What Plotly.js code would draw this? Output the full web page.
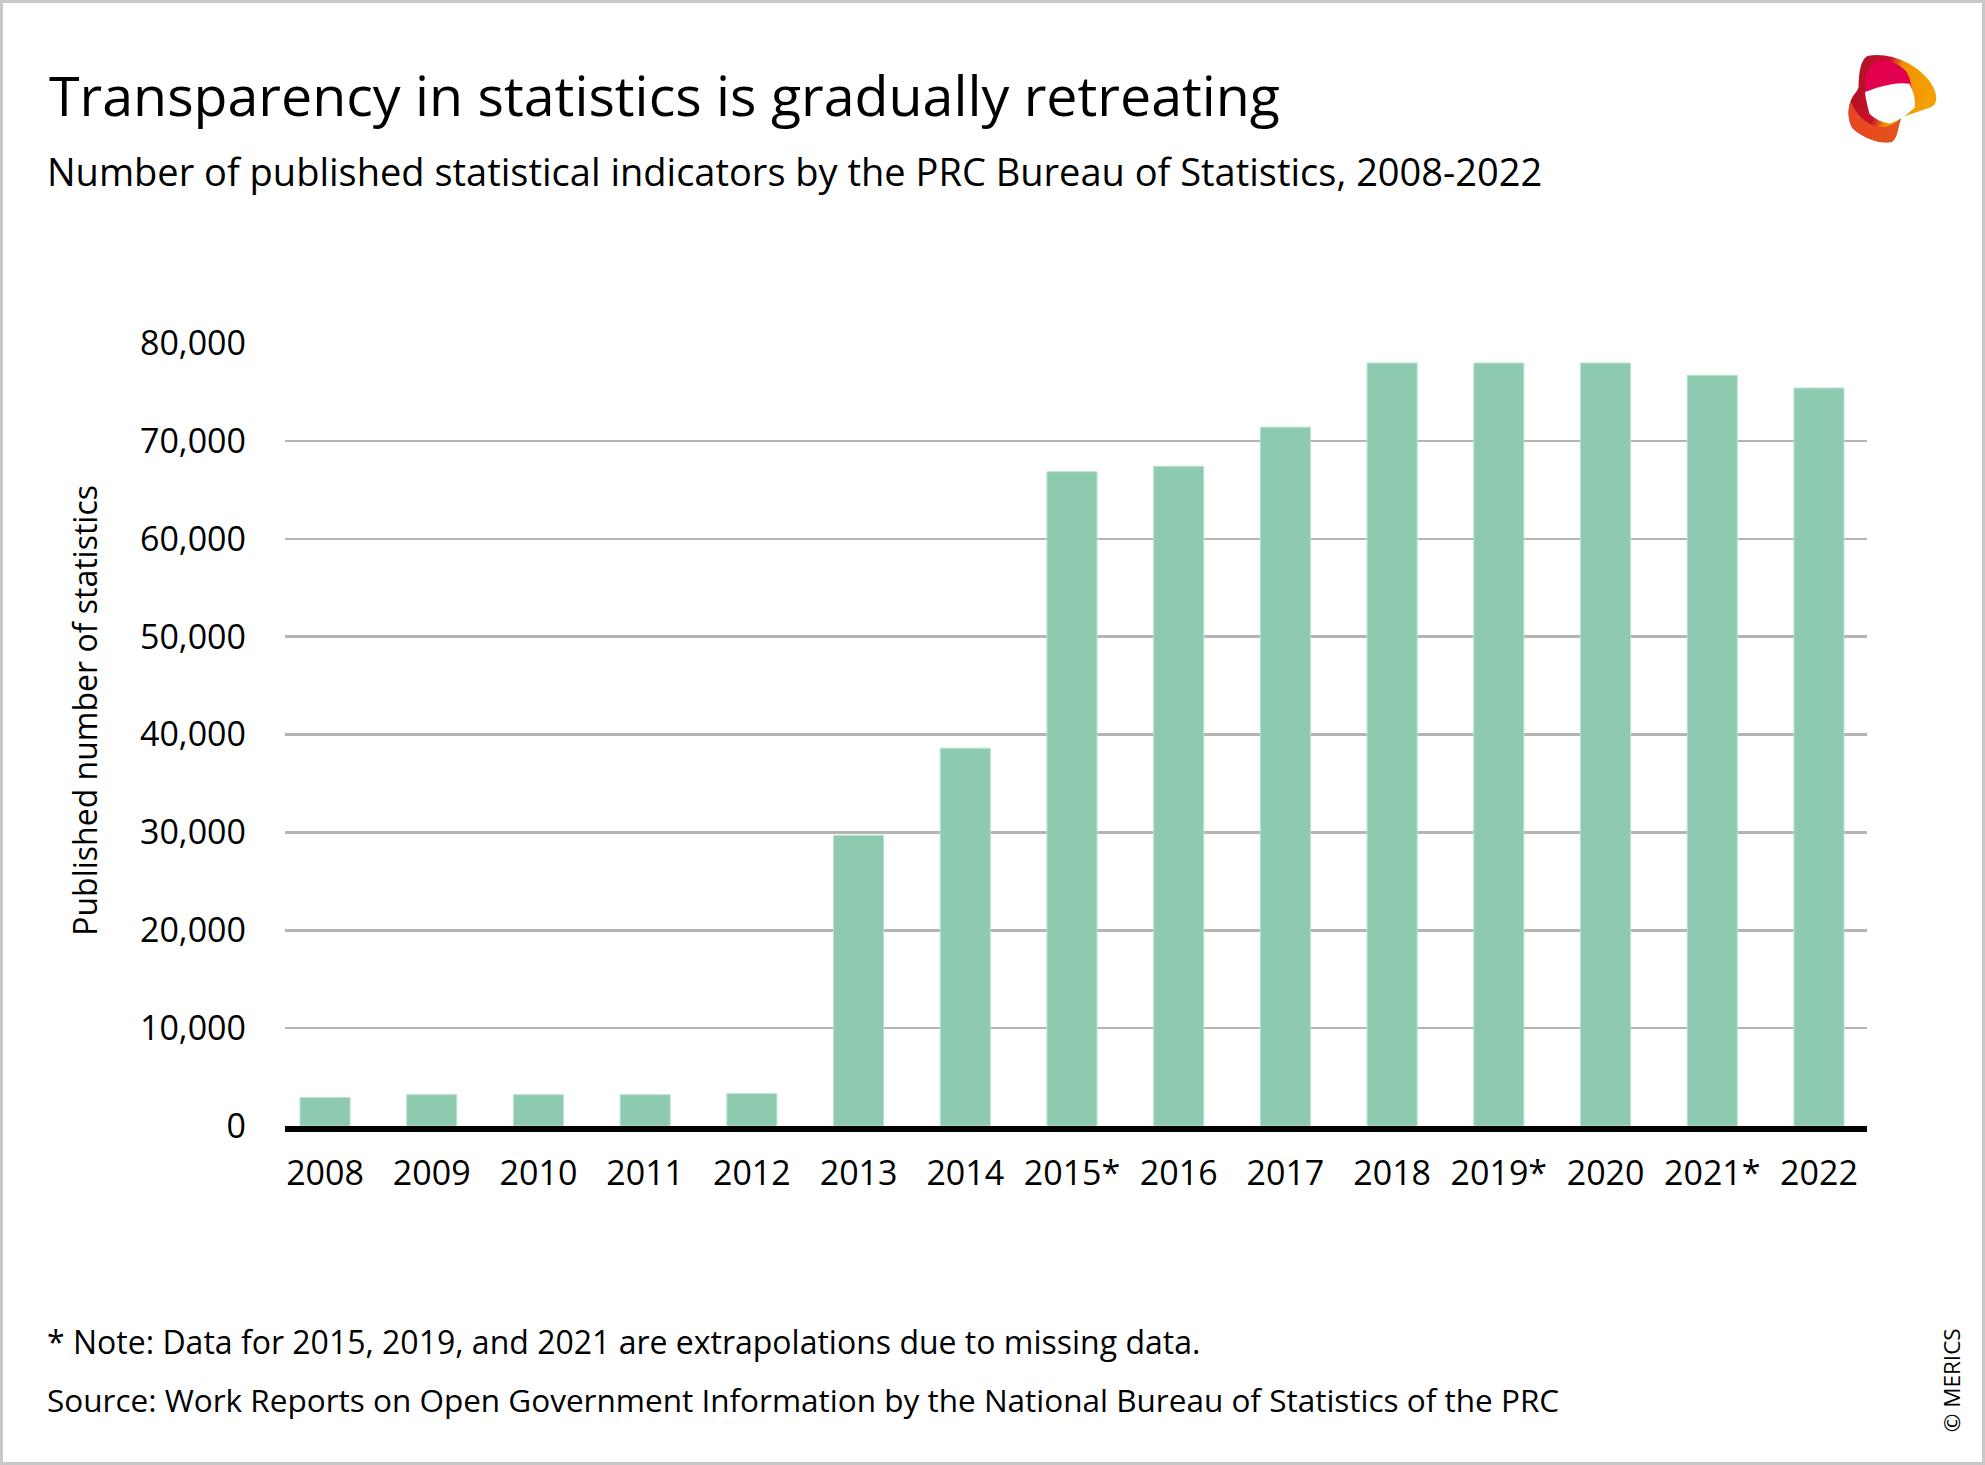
<!DOCTYPE html>
<html>
<head>
<meta charset="utf-8">
<script src="https://cdn.plot.ly/plotly-3.0.1.min.js"></script>
<style>
  html, body { margin: 0; padding: 0; background: #ffffff; }
  #wrap { position: relative; width: 1985px; height: 1465px; }
  #chart { position: absolute; left: 0; top: 0; width: 1985px; height: 1465px; }
  #frame { position: absolute; left: 0; top: 0; width: 1985px; height: 1465px; box-sizing: border-box;
           border: 3px solid #c8c8c8; pointer-events: none; }
</style>
</head>
<body>
<div id="wrap">
  <div id="chart"></div>
  <div id="frame"></div>
</div>
<script>
// ---- data ----
const years = ["2008", "2009", "2010", "2011", "2012", "2013", "2014", "2015*", "2016", "2017", "2018", "2019*", "2020", "2021*", "2022"];
const indicators = [2900, 3200, 3200, 3200, 3300, 29700, 38600, 66850, 67400, 71400, 77950, 77950, 77950, 76700, 75400];
const yTicks = [0, 10000, 20000, 30000, 40000, 50000, 60000, 70000, 80000];

const titleText = "Transparency in statistics is gradually retreating";
const subtitleText = "Number of published statistical indicators by the PRC Bureau of Statistics, 2008-2022";
const noteText = "* Note: Data for 2015, 2019, and 2021 are extrapolations due to missing data.";
const sourceText = "Source: Work Reports on Open Government Information by the National Bureau of Statistics of the PRC";
const yTitleText = "Published number of statistics";
const creditText = "© MERICS";

const FONT = "Open Sans, Noto Sans, sans-serif";

// plot area in px
const L = 285, R = 1867, T = 343, B = 1126.5;
const W = R - L, H = B - T;
const px = x => (x - L) / W;
const py = y => (B - y) / H;

const logoSvg =
 '<svg xmlns="http://www.w3.org/2000/svg" viewBox="0 0 100 100">' +
 '<defs>' +
 '<linearGradient id="g1" x1="0" y1="0" x2="1" y2="0.3">' +
 '<stop offset="0" stop-color="#a5141c"/><stop offset="0.45" stop-color="#c8102e"/><stop offset="0.6" stop-color="#f39200"/><stop offset="1" stop-color="#f5a000"/></linearGradient>' +
 '<linearGradient id="g2" x1="0" y1="0" x2="1" y2="0">' +
 '<stop offset="0" stop-color="#e9461f"/><stop offset="1" stop-color="#e2531f"/></linearGradient>' +
 '</defs>' +
 '<path d="M22,2 C45,-3 80,10 95,35 C102,48 100,58 90,60 L60,70 C55,80 56,92 50,97 C40,101 20,95 7,84 C0,77 -1,62 3,52 C6,44 11,42 12,36 C12,22 14,6 22,2 Z" fill="url(#g1)"/>' +
 '<path d="M3,52 C6,60 14,74 30,80 C44,84 55,76 60,70 C56,82 56,92 50,97 C40,101 20,95 7,84 C0,77 -1,62 3,52 Z" fill="url(#g2)"/>' +
 '<path d="M30,8 C45,4 60,12 66,20 C72,30 72,45 75,58 L62,62 C50,48 35,42 20,42 C18,30 20,14 30,8 Z" fill="#e2004f"/>' +
 '<path d="M19,42 C35,36 55,30 69,33 C74,42 76,52 75,59 C68,66 58,74 47,77 C38,76 30,72 24,66 C22,58 20,50 19,42 Z" fill="#ffffff"/>' +
 '</svg>';
const logoUri = 'data:image/svg+xml;base64,' + btoa(logoSvg);

const trace = {
  type: 'bar',
  x: years,
  y: indicators,
  marker: { color: '#8dcab0', line: { color: '#b9e2cf', width: 1 } },
  hoverinfo: 'x+y'
};

const layout = {
  width: 1985,
  height: 1465,
  paper_bgcolor: '#ffffff',
  plot_bgcolor: '#ffffff',
  showlegend: false,
  bargap: 0.531,
  margin: { l: L, r: 1985 - R, t: T, b: 1465 - B, pad: 0 },
  font: { family: FONT, color: '#000000' },
  xaxis: {
    type: 'category',
    range: [-0.375, 14.45],
    showgrid: false,
    zeroline: false,
    showline: true,
    linecolor: '#000000',
    linewidth: 6,
    ticks: '',
    ticklabelstandoff: 12,
    tickfont: { family: FONT, size: 34, color: '#000000' },
    fixedrange: true
  },
  yaxis: {
    range: [0, 80000],
    tickvals: yTicks,
    tickformat: ',',
    showgrid: true,
    gridcolor: '#b4b4b4',
    gridwidth: 2.5,
    zeroline: false,
    showline: false,
    ticks: '',
    ticklabelstandoff: 38,
    tickfont: { family: FONT, size: 34, color: '#000000' },
    fixedrange: true
  },
  annotations: [
    { text: titleText, xref: 'paper', yref: 'paper', x: px(47), y: py(94), xanchor: 'left', yanchor: 'middle',
      showarrow: false, font: { family: FONT, size: 55.5, color: '#000000' } },
    { text: subtitleText, xref: 'paper', yref: 'paper', x: px(45), y: py(171), xanchor: 'left', yanchor: 'middle',
      showarrow: false, font: { family: FONT, size: 38, color: '#000000' } },
    { text: noteText, xref: 'paper', yref: 'paper', x: px(45), y: py(1342.5), xanchor: 'left', yanchor: 'middle',
      showarrow: false, font: { family: FONT, size: 32, color: '#000000' } },
    { text: sourceText, xref: 'paper', yref: 'paper', x: px(45), y: py(1400), xanchor: 'left', yanchor: 'middle',
      showarrow: false, font: { family: FONT, size: 31.5, color: '#000000' } },
    { text: yTitleText, xref: 'paper', yref: 'paper', x: px(85), y: py(711), xanchor: 'center', yanchor: 'middle',
      textangle: -90, showarrow: false, font: { family: FONT, size: 32, color: '#000000' } },
    { text: creditText, xref: 'paper', yref: 'paper', x: px(1951), y: py(1381), xanchor: 'center', yanchor: 'middle',
      textangle: -90, showarrow: false, font: { family: FONT, size: 22.5, color: '#000000' } }
  ],
  images: [
    { source: logoUri, xref: 'paper', yref: 'paper', x: px(1848), y: py(54), sizex: 89 / W, sizey: 90 / H,
      xanchor: 'left', yanchor: 'top', sizing: 'stretch', layer: 'above' }
  ]
};

Plotly.newPlot('chart', [trace], layout, { displayModeBar: false, staticPlot: true });
</script>
</body>
</html>
